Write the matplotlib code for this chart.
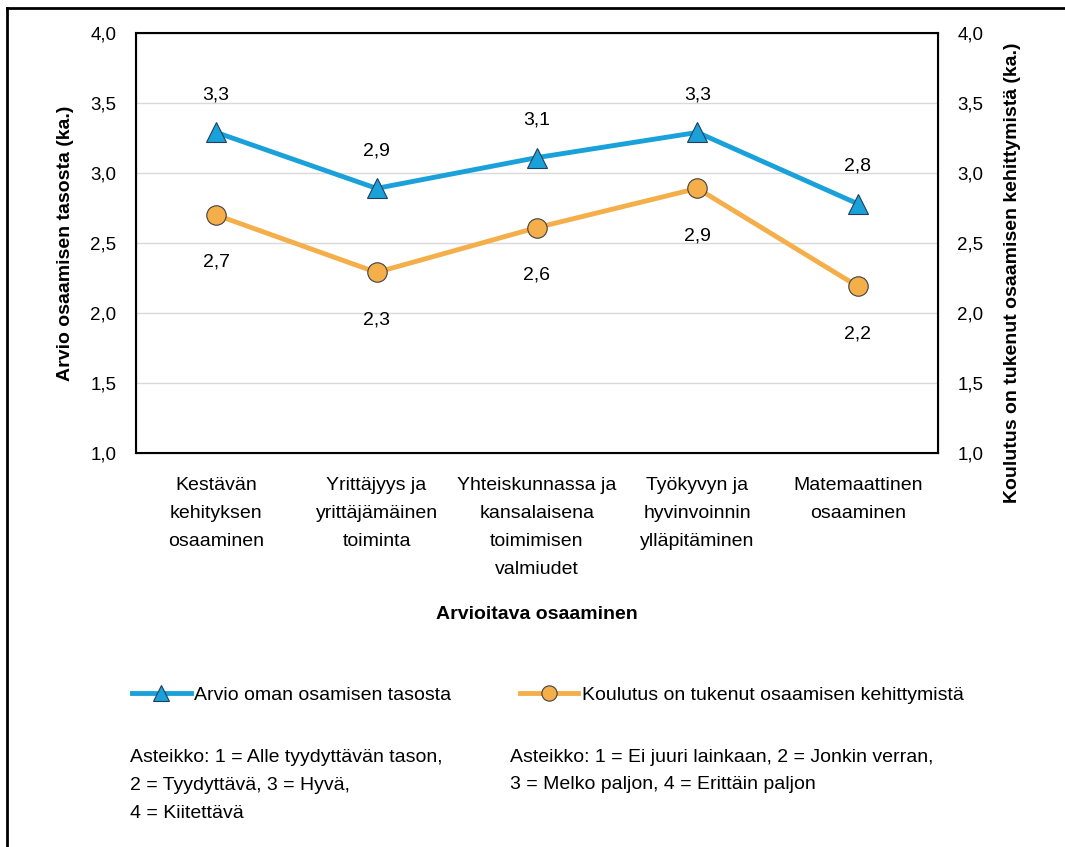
import matplotlib.pyplot as plt
from matplotlib.lines import Line2D
from matplotlib import font_manager

# Font: narrow sans if available
names = {f.name for f in font_manager.fontManager.ttflist}
fam = 'Liberation Sans Narrow' if 'Liberation Sans Narrow' in names else 'Liberation Sans'
plt.rcParams['font.family'] = [fam, 'DejaVu Sans']

categories = ['Kestävän\nkehityksen\nosaaminen',
              'Yrittäjyys ja\nyrittäjämäinen\ntoiminta',
              'Yhteiskunnassa ja\nkansalaisena\ntoimimisen\nvalmiudet',
              'Työkyvyn ja\nhyvinvoinnin\nylläpitäminen',
              'Matemaattinen\nosaaminen']
taso = [3.29, 2.89, 3.11, 3.29, 2.78]
koulutus = [2.70, 2.29, 2.61, 2.89, 2.19]
yticks = [1.0, 1.5, 2.0, 2.5, 3.0, 3.5, 4.0]

blue = '#1BA1DA'
orange = '#F4AF4B'
fs = 14

fig = plt.figure(figsize=(10.65, 8.47), dpi=100)
ax = fig.add_axes([136/1065, 1 - 453/847, (938-136)/1065, (453-33)/847])
x = list(range(len(categories)))

ax.plot(x, taso, color=blue, lw=3.5, marker='^', ms=14,
        mfc=blue, mec='#1F3F5A', mew=0.8, zorder=3)
ax.plot(x, koulutus, color=orange, lw=3.5, marker='o', ms=14,
        mfc=orange, mec='#404040', mew=0.8, zorder=3)

for i, v in enumerate(taso):
    ax.annotate(f'{v:.1f}'.replace('.', ','), (i, v), xytext=(0, 27),
                textcoords='offset points', ha='center', va='center', fontsize=fs)
for i, v in enumerate(koulutus):
    ax.annotate(f'{v:.1f}'.replace('.', ','), (i, v), xytext=(0, -34),
                textcoords='offset points', ha='center', va='center', fontsize=fs)

ax.set_xlim(-0.5, len(categories) - 0.5)
ax.set_ylim(1, 4)
ax.set_yticks(yticks)
ax.set_yticklabels([f'{t:.1f}'.replace('.', ',') for t in yticks], fontsize=13.5)
ax.set_xticks(x)
ax.set_xticklabels(categories, fontsize=fs, linespacing=1.85)
ax.tick_params(length=0, pad=14)
ax.tick_params(axis='x', pad=17)
ax.grid(axis='y', color='#D9D9D9', lw=1)
ax.set_axisbelow(True)
for s in ax.spines.values():
    s.set_linewidth(1.5)
ax.set_ylabel('Arvio osaamisen tasosta (ka.)', fontsize=fs, fontweight='bold', labelpad=12)
ax.set_xlabel('Arvioitava osaaminen', fontsize=fs, fontweight='bold', labelpad=20)

ax2 = ax.twinx()
ax2.set_ylim(1, 4)
ax2.set_yticks(yticks)
ax2.set_yticklabels([f'{t:.1f}'.replace('.', ',') for t in yticks], fontsize=13.5)
ax2.tick_params(length=0, pad=14)
ax2.set_ylabel('Koulutus on tukenut osaamisen kehittymistä (ka.)', fontsize=fs,
               fontweight='bold', rotation=90)
ax2.yaxis.set_label_coords((1004 - 136) / (938 - 136), 0.43)

handles = [Line2D([], [], color=blue, lw=3.5, marker='^', ms=11, mfc=blue, mec='#1F3F5A', mew=0.8),
           Line2D([], [], color=orange, lw=3.5, marker='o', ms=11, mfc=orange, mec='#404040', mew=0.8)]
fig.legend(handles, ['Arvio oman osamisen tasosta', 'Koulutus on tukenut osaamisen kehittymistä'],
           loc='center', bbox_to_anchor=(548/1065, 1 - 695/847), ncol=2, frameon=False,
           fontsize=fs, handlelength=3, handletextpad=0.2, columnspacing=3.5)

fig.text(130/1065, 1 - 749/847,
         'Asteikko: 1 = Alle tyydyttävän tason,\n2 = Tyydyttävä, 3 = Hyvä,\n4 = Kiitettävä',
         fontsize=fs, va='top', ha='left', linespacing=1.85)
fig.text(510/1065, 1 - 749/847,
         'Asteikko: 1 = Ei juuri lainkaan, 2 = Jonkin verran,\n3 = Melko paljon, 4 = Erittäin paljon',
         fontsize=fs, va='top', ha='left', linespacing=1.75)

# outer frame (left and top edges visible)
fig.add_artist(Line2D([7/1065, 7/1065], [0, 1 - 8/847], color='black', lw=2, transform=fig.transFigure))
fig.add_artist(Line2D([7/1065, 1], [1 - 8/847, 1 - 8/847], color='black', lw=2, transform=fig.transFigure))

fig.savefig('out.png', dpi=100)
